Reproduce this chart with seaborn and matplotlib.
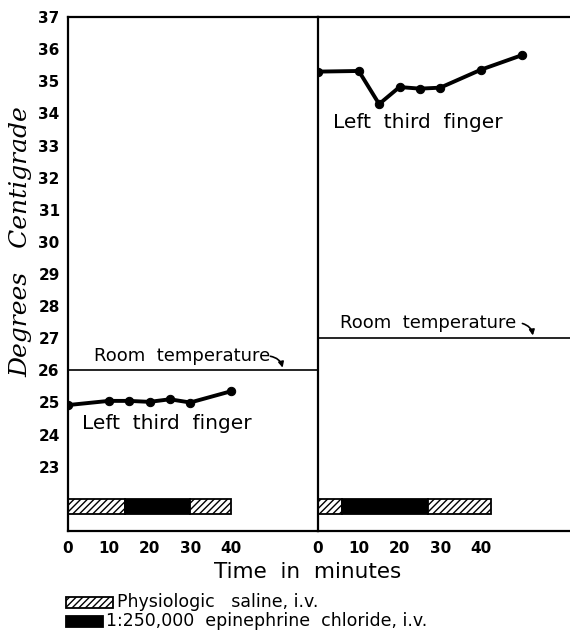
import matplotlib
matplotlib.use("Agg")
import matplotlib.pyplot as plt
import seaborn as sns
import pandas as pd
from matplotlib.patches import Rectangle

sns.set_style("white")
plt.rcParams['font.family'] = ['DejaVu Sans']
plt.rcParams['text.color'] = 'black'
plt.rcParams['axes.labelcolor'] = 'black'
plt.rcParams['xtick.color'] = 'black'
plt.rcParams['ytick.color'] = 'black'

# ---- data ----
left_time = [0, 10, 15, 20, 25, 30, 40]
left_temp = [24.92, 25.05, 25.05, 25.02, 25.1, 25.0, 25.35]
right_time = [0, 10, 15, 20, 25, 30, 40, 50]
right_temp = [35.3, 35.32, 34.29, 34.82, 34.77, 34.8, 35.36, 35.81]
room_temp_left = 26.0
room_temp_right = 27.0
# infusion segments: (start, end, kind)
left_segments = [(0, 14, "saline"), (14, 30, "epi"), (30, 40, "saline")]
right_segments = [(0, 6, "saline"), (6, 27, "epi"), (27, 42.5, "saline")]
ytick_vals = list(range(23, 38))
xtick_vals = [0, 10, 20, 30, 40]
legend_labels = ["Physiologic   saline, i.v.", "1:250,000  epinephrine  chloride, i.v."]

fig = plt.figure(figsize=(5.70, 6.38), dpi=100)
bottom = 1 - 531 / 638
top = 1 - 17 / 638
h = top - bottom
axL = fig.add_axes([68 / 570, bottom, 250 / 570, h])
axR = fig.add_axes([318 / 570, bottom, 252 / 570, h])

pxmin = 4.075

def style(ax, xmax):
    ax.set_xlim(0, xmax)
    ax.set_ylim(21, 37)
    for s in ["left", "bottom", "top"]:
        ax.spines[s].set_visible(True)
        ax.spines[s].set_linewidth(1.6)
        ax.spines[s].set_color("black")
    ax.spines["right"].set_visible(False)
    ax.set_xticks(xtick_vals)
    ax.set_xticklabels([str(v) for v in xtick_vals], fontsize=11, fontweight="bold")
    ax.tick_params(axis="x", direction="in", length=7, width=1.5, pad=7, colors="black")
    ax.set_xlabel("")
    ax.set_ylabel("")

def draw_bars(ax, segs):
    for s, e, kind in segs:
        if kind == "saline":
            ax.barh(21.765, e - s, left=s, height=0.47, color="white",
                    edgecolor="black", hatch="/////", linewidth=1.3)
        else:
            ax.barh(21.765, e - s, left=s, height=0.47, color="black",
                    edgecolor="black", linewidth=1.3)

# Left panel
dfL = pd.DataFrame({"t": left_time, "T": left_temp})
sns.lineplot(data=dfL, x="t", y="T", ax=axL, color="black", linewidth=2.8,
             marker="o", markersize=6, markeredgecolor="black")
axL.axhline(room_temp_left, color="black", linewidth=1.2)
draw_bars(axL, left_segments)
style(axL, 250 / pxmin)
axL.set_yticks(ytick_vals)
axL.set_yticklabels([str(v) for v in ytick_vals], fontsize=11, fontweight="bold")
axL.tick_params(axis="y", direction="in", length=7, width=1.5, pad=6, colors="black")
axL.text(3.4, 24.36, "Left  third  finger", fontsize=14.5, va="center", ha="left")
axL.text(6.4, 26.45, "Room  temperature", fontsize=13, va="center", ha="left")
axL.annotate("", xy=(52.8, 26.0), xytext=(49.0, 26.45),
             arrowprops=dict(arrowstyle="-|>", color="black", lw=1.2,
                             connectionstyle="arc3,rad=-0.4", mutation_scale=8))
axL.text(-0.19, 30.0, "Degrees   Centigrade", rotation=90, fontsize=18,
         style="italic", family="DejaVu Serif", va="center", ha="center",
         transform=axL.get_yaxis_transform())

# Right panel
dfR = pd.DataFrame({"t": right_time, "T": right_temp})
sns.lineplot(data=dfR, x="t", y="T", ax=axR, color="black", linewidth=2.8,
             marker="o", markersize=6, markeredgecolor="black")
axR.axhline(room_temp_right, color="black", linewidth=1.2)
draw_bars(axR, right_segments)
style(axR, 252 / pxmin)
axR.set_yticks([])
axR.text(3.7, 33.72, "Left  third  finger", fontsize=14.5, va="center", ha="left")
axR.text(5.4, 27.48, "Room  temperature", fontsize=13, va="center", ha="left")
axR.annotate("", xy=(52.8, 27.0), xytext=(49.5, 27.48),
             arrowprops=dict(arrowstyle="-|>", color="black", lw=1.2,
                             connectionstyle="arc3,rad=-0.4", mutation_scale=8))

fig.text(308 / 570, 1 - 572 / 638, "Time  in  minutes", fontsize=15.5,
         ha="center", va="center")

# legend drawn as figure patches + text
W, H = 570.0, 638.0
legend_rows = [(602, "saline", 47, 117), (621, "epi", 37, 106)]
for (yc, kind, pw, tx), lab in zip(legend_rows, legend_labels):
    if kind == "saline":
        r = Rectangle((66 / W, 1 - (yc + 5.5) / H), pw / W, 11 / H, transform=fig.transFigure,
                      facecolor="white", edgecolor="black", hatch="/////", linewidth=1.3)
    else:
        r = Rectangle((66 / W, 1 - (yc + 5.5) / H), pw / W, 11 / H, transform=fig.transFigure,
                      facecolor="black", edgecolor="black", linewidth=1.3)
    fig.add_artist(r)
    fig.text(tx / W, 1 - yc / H, lab, fontsize=12.5, ha="left", va="center")

fig.savefig("out.png", dpi=100)
